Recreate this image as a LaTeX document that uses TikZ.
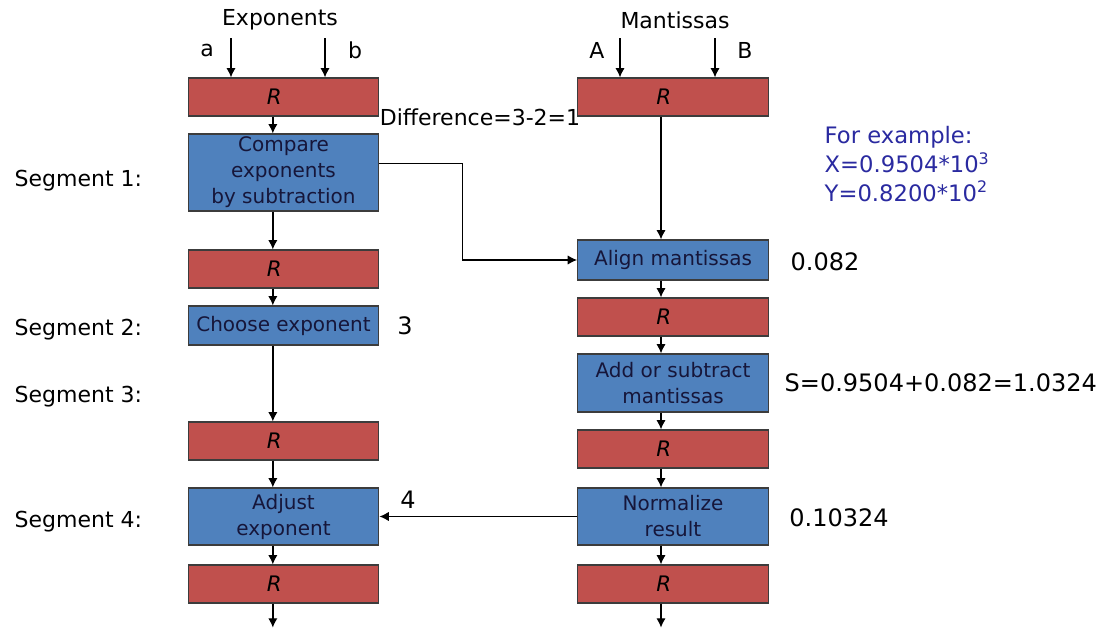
\documentclass[tikz,border=0pt]{standalone}
\usepackage{fontspec}
\setmainfont{DejaVu Sans}
\usetikzlibrary{arrows.meta}
\definecolor{regred}{HTML}{C0504D}
\definecolor{stageblue}{HTML}{4F81BD}
\definecolor{boxline}{HTML}{3C3C3C}
\definecolor{stagetext}{HTML}{16163A}
\definecolor{exblue}{HTML}{2A2AA0}
\begin{document}
\begin{tikzpicture}
        [x=0.75pt, y=-0.75pt,
        reg/.style={rectangle, draw=boxline, line width=0.9pt, fill=regred, minimum width=143pt, minimum height=28.5pt, inner sep=0pt, font=\fontsize{16}{18}\selectfont\itshape, execute at begin node=\hspace*{-14pt}},
        stage/.style={rectangle, draw=boxline, line width=0.9pt, fill=stageblue, minimum width=143pt, inner sep=0pt, align=center, text=stagetext, font=\fontsize{15}{19.5}\selectfont},
        lbl/.style={font=\fontsize{16.5}{19}\selectfont},
        val/.style={font=\fontsize{18}{20}\selectfont},
        arr/.style={line width=1pt, -{Latex[length=7pt,width=7pt]}}]
        \useasboundingbox (0,0) rectangle (1110,628);

        % exponent side
        \node[reg] (RA1) at (283.5,97) {R};
        \node[stage, minimum height=57.75pt] (CMP) at (283.5,172.5) {Compare\\exponents\\by subtraction};
        \node[reg] (RA2) at (283.5,269) {R};
        \node[stage, minimum height=29.25pt] (CHS) at (283.5,325.5) {Choose exponent};
        \node[reg] (RA3) at (283.5,441) {R};
        \node[stage, minimum height=42.75pt] (ADJ) at (283.5,516.5) {Adjust\\exponent};
        \node[reg] (RA4) at (283.5,584) {R};

        % mantissa side
        \node[reg] (RB1) at (673,97) {R};
        \node[stage, minimum height=30pt] (ALN) at (673,260) {Align mantissas};
        \node[reg] (RB2) at (673,317) {R};
        \node[stage, minimum height=43.5pt] (ADD) at (673,383) {Add or subtract\\mantissas};
        \node[reg] (RB3) at (673,449) {R};
        \node[stage, minimum height=42.75pt] (NRM) at (673,516.5) {Normalize\\result};
        \node[reg] (RB4) at (673,584) {R};

        % inputs
        \node[lbl] (EXP) at (280,20) {Exponents};
        \node[lbl] (MAN) at (675,20) {Mantissas};
        \node[lbl] (La) at (207,50) {a};
        \node[lbl] (Lb) at (355,50) {b};
        \node[lbl] (LA) at (597,50) {A};
        \node[lbl] (LB) at (745,50) {B};
        \coordinate (ia) at (231,38);
        \coordinate (ib) at (325,38);
        \coordinate (iA) at (620,38);
        \coordinate (iB) at (715,38);

        % segment names
        \node[lbl, anchor=west] (S1) at (10,181) {Segment 1:};
        \node[lbl, anchor=west] (S2) at (10,330) {Segment 2:};
        \node[lbl, anchor=west] (S3) at (10,397) {Segment 3:};
        \node[lbl, anchor=west] (S4) at (10,522) {Segment 4:};

        % worked example
        \node[lbl] (DIF) at (480,117) {Difference=3-2=1};
        \node[val] (V3) at (405,326) {3};
        \node[val] (V4) at (408,500) {4};
        \node[val] (VAL) at (825,262) {0.082};
        \node[val, anchor=west] (SUM) at (780,383) {S=0.9504+0.082=1.0324};
        \node[val] (NRV) at (839,518) {0.10324};
        \node[lbl, anchor=west, align=left, text=exblue, font=\fontsize{17}{21.5}\selectfont] (EXM) at (820,164)
            {For example:\\X=0.9504*10\textsuperscript{3}\\Y=0.8200*10\textsuperscript{2}};

        \draw[arr] (ia) -- (ia |- RA1.north);
        \draw[arr] (ib) -- (ib |- RA1.north);
        \draw[arr] (iA) -- (iA |- RB1.north);
        \draw[arr] (iB) -- (iB |- RB1.north);

        \draw[arr] ([xshift=-8pt]RA1.south) -- ([xshift=-8pt]CMP.north);
        \draw[arr] ([xshift=-8pt]CMP.south) -- ([xshift=-8pt]RA2.north);
        \draw[arr] ([xshift=-8pt]RA2.south) -- ([xshift=-8pt]CHS.north);
        \draw[arr] ([xshift=-8pt]CHS.south) -- ([xshift=-8pt]RA3.north);
        \draw[arr] ([xshift=-8pt]RA3.south) -- ([xshift=-8pt]ADJ.north);
        \draw[arr] ([xshift=-8pt]ADJ.south) -- ([xshift=-8pt]RA4.north);
        \draw[arr] ([xshift=-8pt]RA4.south) -- ++(0,24);

        \draw[arr] ([xshift=-9pt]RB1.south) -- ([xshift=-9pt]ALN.north);
        \draw[arr] ([xshift=-9pt]ALN.south) -- ([xshift=-9pt]RB2.north);
        \draw[arr] ([xshift=-9pt]RB2.south) -- ([xshift=-9pt]ADD.north);
        \draw[arr] ([xshift=-9pt]ADD.south) -- ([xshift=-9pt]RB3.north);
        \draw[arr] ([xshift=-9pt]RB3.south) -- ([xshift=-9pt]NRM.north);
        \draw[arr] ([xshift=-9pt]NRM.south) -- ([xshift=-9pt]RB4.north);
        \draw[arr] ([xshift=-9pt]RB4.south) -- ++(0,24);

        \draw[arr] ([yshift=7pt]CMP.east) -- ++(83,0) |- (ALN.west);
        \draw[arr] (NRM.west) -- (ADJ.east);

    \end{tikzpicture}
\end{document}
